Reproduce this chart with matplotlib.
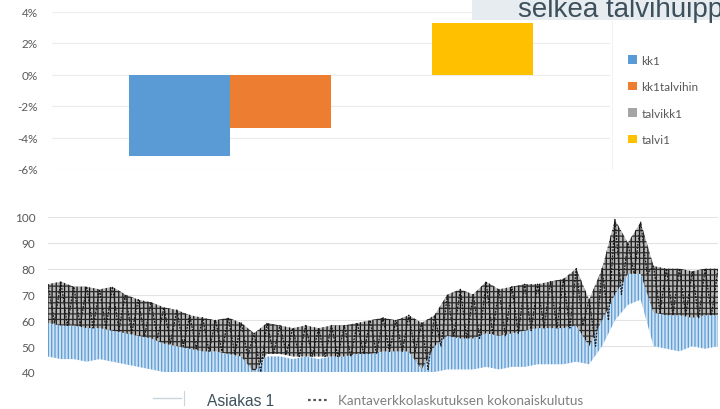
import matplotlib
matplotlib.use('Agg')
import matplotlib.pyplot as plt
from matplotlib.patches import Rectangle, Patch
from matplotlib.lines import Line2D

# ---- top chart data ----
bar_series = ['kk1', 'kk1talvihin', 'talvikk1', 'talvi1']
bar_values = [-5.2, -3.4, 0.0, 3.3]
bar_colors = ['#5b9bd5', '#ed7d31', '#a5a5a5', '#ffc000']
pct_ticks = [-6, -4, -2, 0, 2, 4]

# ---- bottom chart data (weekly envelope) ----
weeks = list(range(53))
kanta_high = [74, 75, 73, 73, 72, 73, 70, 68, 67, 65, 64, 62, 61, 60, 61, 59, 55, 59,
              58, 57, 58, 57, 58, 58, 59, 60, 61, 60, 62, 59, 62, 70, 72, 70, 75, 72,
              73, 74, 74, 75, 76, 80, 68, 80, 99, 90, 98, 81, 80, 80, 79, 80, 80]
kanta_low = [59, 58, 58, 57, 57, 56, 55, 54, 53, 51, 50, 49, 48, 48, 47, 46, 40, 47,
             47, 46, 46, 46, 46, 46, 47, 47, 48, 48, 48, 41, 50, 54, 53, 53, 55, 54,
             55, 56, 57, 57, 57, 58, 50, 60, 70, 78, 78, 63, 62, 62, 61, 62, 62]
asiakas_high = [62, 63, 61, 62, 61, 60, 59, 57, 55, 53, 52, 51, 49, 48, 47, 46, 43, 46,
                46, 45, 46, 45, 46, 46, 47, 48, 49, 49, 50, 48, 52, 58, 57, 57, 60, 58,
                59, 60, 61, 62, 62, 64, 55, 70, 92, 86, 95, 72, 70, 70, 69, 70, 70]
asiakas_low = [46, 45, 45, 44, 45, 44, 43, 42, 41, 40, 40, 39, 39, 38, 38, 38, 36, 38,
               39, 38, 39, 38, 39, 38, 39, 39, 39, 39, 39, 37, 40, 41, 41, 41, 42, 41,
               42, 42, 43, 43, 43, 44, 43, 50, 60, 66, 68, 50, 49, 48, 50, 49, 50]
load_ticks = [40, 50, 60, 70, 80, 90, 100]

title_text = 'selkea talvihuipp'
legend_asiakas = 'Asiakas 1'
legend_kanta = 'Kantaverkkolaskutuksen kokonaiskulutus'

W, H = 720, 410
plt.rcParams['font.family'] = ['Lato', 'DejaVu Sans']
plt.rcParams['hatch.linewidth'] = 0.9
fig = plt.figure(figsize=(W / 100, H / 100), dpi=100)

tick_col = '#595959'

# ---------------- top bar chart ----------------
ax1 = fig.add_axes([52 / W, 1 - 170 / H, (610 - 52) / W, (170 - 12.5) / H])
w = 101 / 558
offsets = [-1.5 * w, -0.5 * w, 0.5 * w, 1.5 * w]
handles = []
for off, v, c, name in zip(offsets, bar_values, bar_colors, bar_series):
    ax1.bar(off, v, width=w, color=c, zorder=3)
    handles.append(Patch(facecolor=c, edgecolor='none', label=name))
ax1.set_xlim(-0.5, 0.5)
ax1.set_ylim(-6, 4)
ax1.set_yticks(pct_ticks)
ax1.set_yticklabels([f'{t}%' for t in pct_ticks])
ax1.set_xticks([])
ax1.grid(axis='y', color='#ececec', linewidth=0.8, zorder=0)
for s in ax1.spines.values():
    s.set_visible(False)
ax1.tick_params(axis='y', length=0, labelsize=8.5, labelcolor=tick_col, pad=10)
leg = fig.legend(handles=handles, loc='upper left', bbox_to_anchor=(622 / W, 1 - 50 / H),
                 frameon=False, fontsize=8.5, handlelength=0.75, handleheight=0.75,
                 handletextpad=0.4, labelspacing=1.3, borderpad=0)
for t in leg.get_texts():
    t.set_color(tick_col)
fig.add_artist(Line2D([612 / W, 612 / W], [1 - 170 / H, 1 - 22 / H], color='#f2f2f2', lw=0.8))

# title overlay box
fig.add_artist(Rectangle((472 / W, 1 - 20.5 / H), (W - 472) / W, 20.5 / H,
                         transform=fig.transFigure, facecolor='#e7ecf0', edgecolor='none'))
fig.text(518 / W, 1 - 17 / H, title_text, family=['Liberation Sans', 'DejaVu Sans'],
         fontsize=20, color='#3d505c', va='baseline', ha='left')

# ---------------- bottom load chart ----------------
ax2 = fig.add_axes([48 / W, 1 - 373 / H, (718 - 48) / W, (373 - 218) / H])
ax2.fill_between(weeks, asiakas_low, asiakas_high, facecolor='#cfe2f3', edgecolor='#5b9bd5',
                 hatch='|||||', linewidth=0, zorder=2)
ax2.fill_between(weeks, kanta_low, kanta_high, facecolor='#b8b8b8', edgecolor='#111111',
                 hatch='||||', linewidth=0, zorder=3)
ax2.fill_between(weeks, kanta_low, kanta_high, facecolor='none', edgecolor='#2a2a2a',
                 hatch='---', linewidth=0, zorder=3.5)
zx, zy = [], []
for i in weeks:
    zx += [i, i + 0.5]
    zy += [kanta_high[i], kanta_low[i]]
ax2.plot(zx[:-1], zy[:-1], color='#1a1a1a', lw=0.9, ls=(0, (1.5, 1)), zorder=4)
ax2.set_xlim(weeks[0], weeks[-1])
ax2.set_ylim(40, 100)
ax2.set_yticks(load_ticks)
ax2.set_xticks([])
ax2.grid(axis='y', color='#e3e3e3', linewidth=0.8, zorder=0)
for s in ax2.spines.values():
    s.set_visible(False)
ax2.tick_params(axis='y', length=0, labelsize=8.5, labelcolor=tick_col, pad=9)

# bottom legend
fig.add_artist(Line2D([153 / W, 181 / W], [1 - 399 / H, 1 - 399 / H], color='#c9d4dc', lw=1.0))
fig.add_artist(Line2D([184 / W, 184 / W], [1 - 406 / H, 1 - 392 / H], color='#c9d4dc', lw=0.8))
fig.text(207 / W, 1 - 406 / H, legend_asiakas, family=['Liberation Sans', 'DejaVu Sans'],
         fontsize=11.2, color='#3d505c', va='baseline', ha='left')
fig.add_artist(Line2D([308 / W, 328 / W], [1 - 401 / H, 1 - 401 / H], color='#595959',
                      lw=1.6, ls=(0, (1.2, 1.2))))
fig.text(338 / W, 1 - 401 / H, legend_kanta, fontsize=9.7, color='#7f7f7f',
         va='center', ha='left')

fig.savefig('out.png', dpi=100)
